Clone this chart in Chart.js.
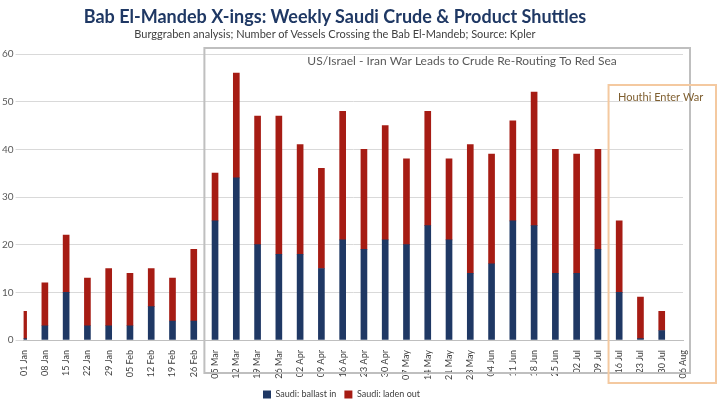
<!DOCTYPE html>
<html><head><meta charset="utf-8">
<script src="https://cdn.jsdelivr.net/npm/chart.js@4"></script>
<style>
html,body{margin:0;padding:0;background:#fff;width:720px;height:411px;overflow:hidden;font-family:Lato,"Open Sans",sans-serif}
#t{position:absolute;left:0;width:670px;top:5px;text-align:center;font-size:18px;font-weight:bold;color:#1f3864}
#s{position:absolute;left:0;width:670px;top:27px;text-align:center;font-size:11px;color:#404040}
#w{position:absolute;left:0;top:0;width:720px;height:411px}
</style></head><body>
<div id="w"><canvas id="c"></canvas></div>
<div id="t">Bab El-Mandeb X-ings: Weekly Saudi Crude &amp; Product Shuttles</div>
<div id="s">Burggraben analysis; Number of Vessels Crossing the Bab El-Mandeb; Source: Kpler</div>
<script>
const categories=["01 Jan","08 Jan","15 Jan","22 Jan","29 Jan","05 Feb","12 Feb","19 Feb","26 Feb","05 Mar","12 Mar","19 Mar","26 Mar","02 Apr","09 Apr","16 Apr","23 Apr","30 Apr","07 May","14 May","21 May","28 May","04 Jun","11 Jun","18 Jun","25 Jun","02 Jul","09 Jul","16 Jul","23 Jul","30 Jul","06 Aug"];
const totals=[6,12,22,13,15,14,15,13,19,35,56,47,47,41,36,48,40,45,38,48,38,41,39,46,52,40,39,40,25,9,6,null];
const ballastIn=[0.3,3,10,3,3,3,7,4,4,25,34,20,18,18,15,21,19,21,20,24,21,14,16,25,24,14,14,19,10,0.3,2,null];
const ladenOut=totals.map((t,i)=>t==null?null:t-ballastIn[i]);
const yTicks=[0,10,20,30,40,50,60];

const boxes={id:'boxes',afterDraw(ch){
 const c=ch.ctx,x=ch.scales.x;
 const gl=(x.getPixelForValue(8)+x.getPixelForValue(9))/2;
 const ol=(x.getPixelForValue(27)+x.getPixelForValue(28))/2;
 c.save();
 c.strokeStyle='#bfbfbf';c.lineWidth=2;c.strokeRect(gl,48,690-gl,325);
 c.strokeStyle='#f4c9a0';c.lineWidth=2;c.strokeRect(ol,85,716-ol,298);
 c.font='12px Lato, sans-serif';c.fillStyle='#595959';c.textAlign='center';c.textBaseline='middle';
 c.fillText('US/Israel - Iran War Leads to Crude Re-Routing To Red Sea',462,61);
 c.font='11px Lato, sans-serif';c.fillStyle='#7f5f30';c.textAlign='left';
 c.fillText('Houthi Enter War',618,97);
 c.restore();}};

new Chart(document.getElementById('c'),{type:'bar',
 data:{labels:categories,datasets:[
  {label:'Saudi: ballast in',data:ballastIn,backgroundColor:'#1f3864',stack:'s',barThickness:6},
  {label:'Saudi: laden out',data:ladenOut,backgroundColor:'#a61c14',stack:'s',barThickness:6}]},
 options:{responsive:true,maintainAspectRatio:false,animation:false,
  layout:{padding:{top:54,right:37,left:0,bottom:2}},
  plugins:{legend:{position:'bottom',labels:{boxWidth:8,boxHeight:8,padding:8,color:'#404040',font:{size:9,family:'Lato'}}},tooltip:{enabled:false}},
  scales:{
   x:{stacked:true,offset:false,grid:{display:false},border:{color:'#bfbfbf'},
      ticks:{autoSkip:false,maxRotation:90,minRotation:90,padding:2,color:'#404040',font:{size:9,family:'Lato'}}},
   y:{stacked:true,min:0,max:60,afterBuildTicks(s){s.ticks=yTicks.map(v=>({value:v}));},
      grid:{color:'#d9d9d9'},border:{display:false},ticks:{color:'#595959',font:{size:10,family:'Lato'},padding:2}}}}
 ,plugins:[boxes]});
</script></body></html>
